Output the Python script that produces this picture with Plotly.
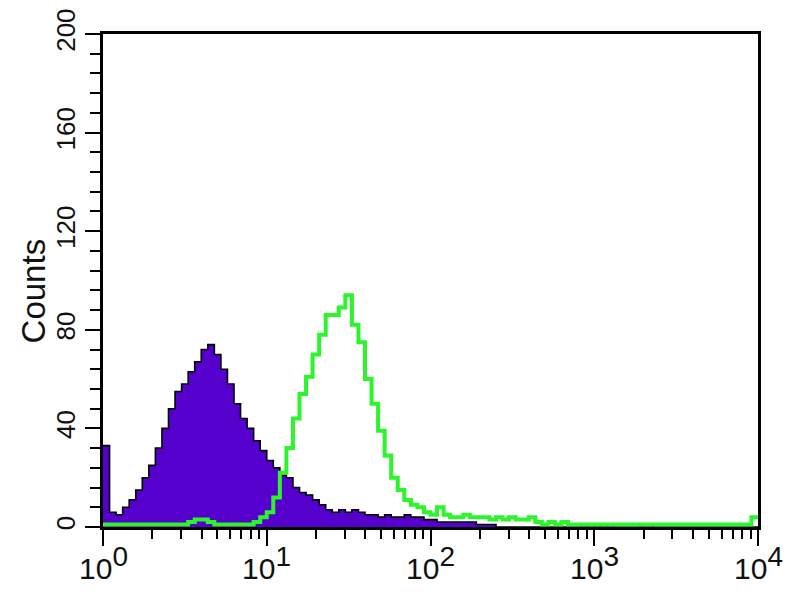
import plotly.graph_objects as go

# Histogram bins: uniform width in log10 units, starting at 10^0
BIN_LOG_WIDTH = 0.04

# Isotype/control (filled purple) counts per bin
purple_counts = [
    33, 6, 5, 8, 11, 15, 20, 25, 32, 40,
    48, 55, 58, 63, 67, 72, 74, 70, 64, 58,
    50, 44, 40, 35, 31, 27, 24, 21, 20, 16,
    14, 13, 11, 9, 7, 6, 7, 6, 7, 6,
    5, 5, 4, 5, 4, 4, 5, 4, 4, 3,
    3, 2, 2, 2, 2, 2, 2, 1, 1, 1,
    0, 0, 0, 0, 0, 0, 0, 0, 0, 0,
    0, 0, 0, 1.3, 0, 1.3, 0, 1.3, 0, 0,
    0, 0, 1.3, 1.3, 0, 0, 0, 0, 0, 0,
    0, 0, 0, 0, 0, 0, 0, 0, 0, 0,
]

# Stained sample (green outline) counts per bin
green_counts = [
    1, 1, 1, 1, 1, 1, 1, 1, 1, 1,
    1, 1, 1, 2, 3, 3, 2, 1, 1, 1,
    1, 1, 1, 2, 4, 6, 12, 22, 32, 44,
    54, 61, 70, 78, 86, 86, 89, 94, 82, 75,
    60, 50, 39, 29, 20, 15, 11, 9, 8, 6,
    5, 8, 5, 4, 4, 5, 4, 4, 4, 3,
    4, 3, 4, 3, 3, 4, 2, 1, 2, 1,
    2, 1, 1, 1, 1, 1, 1, 1, 1, 1,
    1, 1, 1, 1, 1, 1, 1, 1, 1, 1,
    1, 1, 1, 1, 1, 1, 1, 1, 1, 4,
]

x_tick_exponents = [0, 1, 2, 3, 4]
y_tick_vals = [0, 40, 80, 120, 160, 200]
y_title = "Counts"


def step_xy(counts):
    xs = [10 ** (i * BIN_LOG_WIDTH) for i in range(len(counts))]
    xs.append(10 ** (len(counts) * BIN_LOG_WIDTH))
    ys = list(counts) + [counts[-1]]
    return xs, ys


px_, py_ = step_xy(purple_counts)
gx_, gy_ = step_xy(green_counts)

fig = go.Figure()
fig.add_trace(go.Scatter(
    x=px_, y=py_, mode="lines", line_shape="hv",
    line=dict(color="black", width=1.6),
    fill="tozeroy", fillcolor="#5500CC", showlegend=False,
))
fig.add_trace(go.Scatter(
    x=gx_, y=gy_, mode="lines", line_shape="hv",
    line=dict(color="#2CF52C", width=4), showlegend=False,
))

# page body has an 8px margin, so the figure is 792x592 and offset by 8px
fig.update_layout(
    width=792, height=592,
    margin=dict(l=95, r=42, t=26, b=73),
    paper_bgcolor="white", plot_bgcolor="white",
    font=dict(family="Liberation Sans, Arial, sans-serif", color="#111111"),
)

fig.update_xaxes(
    type="log", range=[0, 4], automargin=False,
    tickmode="array", tickvals=[10 ** e for e in x_tick_exponents],
    showticklabels=False,
    ticks="outside", ticklen=16, tickwidth=2, tickcolor="black",
    minor=dict(ticks="outside", ticklen=9, tickwidth=2, tickcolor="black", dtick="D1"),
    showline=True, linecolor="black", linewidth=3, mirror=True,
    showgrid=False, zeroline=False,
)
fig.update_yaxes(
    range=[0, 200], automargin=False,
    tickmode="array", tickvals=y_tick_vals,
    tickangle=-90, tickfont=dict(size=26), ticklabelstandoff=0,
    ticks="outside", ticklen=15, tickwidth=2, tickcolor="black",
    minor=dict(ticks="outside", ticklen=10, tickwidth=2, tickcolor="black", dtick=8),
    showline=True, linecolor="black", linewidth=3, mirror=True,
    showgrid=False, zeroline=False,
)

# x tick labels as annotations: "10" with a full-size raised exponent
for e in x_tick_exponents:
    fig.add_annotation(
        x=e, xref="x", y=0, yref="paper",
        text=f'10<sup><span style="font-size:28px">{e}</span></sup>',
        showarrow=False, xanchor="center", yanchor="top", yshift=-12, xshift=0,
        font=dict(size=30, family="Liberation Sans Narrow, Liberation Sans, Arial"),
    )

fig.add_annotation(
    x=-0.106, xref="paper", y=0.479, yref="paper",
    text=y_title, textangle=-90, showarrow=False,
    xanchor="center", yanchor="middle",
    font=dict(size=33),
)

fig.write_html("out.html")
